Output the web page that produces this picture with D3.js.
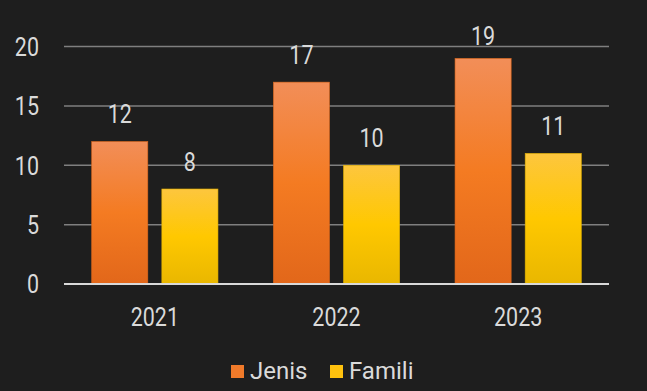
<!DOCTYPE html>
<html><head><meta charset="utf-8">
<script src="https://cdn.jsdelivr.net/npm/d3@7"></script>
<style>html,body{margin:0;padding:0;background:#1e1e1e;}svg{display:block;}</style>
</head><body>
<svg id="c" width="647" height="391"></svg>
<script>
const categories = ["2021", "2022", "2023"];
const seriesNames = ["Jenis", "Famili"];
const jenis = [12, 17, 19];
const famili = [8, 10, 11];
const yTicks = [0, 5, 10, 15, 20];

(function () {
const W = 647, H = 391;
const svg = d3.select("#c");
svg.append("rect").attr("width", W).attr("height", H).attr("fill", "#1e1e1e");

const defs = svg.append("defs");
const g1 = defs.append("linearGradient").attr("id", "gO").attr("x1", 0).attr("y1", 0).attr("x2", 0).attr("y2", 1);
g1.append("stop").attr("offset", "0%").attr("stop-color", "#f28e58");
g1.append("stop").attr("offset", "50%").attr("stop-color", "#f47b22");
g1.append("stop").attr("offset", "100%").attr("stop-color", "#e2671a");
const g2 = defs.append("linearGradient").attr("id", "gY").attr("x1", 0).attr("y1", 0).attr("x2", 0).attr("y2", 1);
g2.append("stop").attr("offset", "0%").attr("stop-color", "#fdc63e");
g2.append("stop").attr("offset", "50%").attr("stop-color", "#ffc800");
g2.append("stop").attr("offset", "100%").attr("stop-color", "#e9b700");
const fills = ["url(#gO)", "url(#gY)"];
const legendFills = ["#f07a2a", "#ffc20e"];
const strokes = ["#d9661c", "#e0b000"];

const mLeft = 64, mRight = 609, mTop = 46.5, mBottom = 284;
const x0 = d3.scaleBand().domain(categories).range([mLeft, mRight]).paddingInner(0.305).paddingOuter(0.1525);
const x1 = d3.scaleBand().domain(seriesNames).range([0, x0.bandwidth()]).paddingInner(0.2);
const y = d3.scaleLinear().domain([0, 20]).range([mBottom, mTop]);

const font = "Roboto, 'Noto Sans', sans-serif";
const txt = "#dadada";
const fs = 25, sx = 0.86;

svg.append("g").selectAll("line").data(yTicks.filter(d => d > 0)).join("line")
  .attr("x1", mLeft).attr("x2", mRight)
  .attr("y1", d => y(d)).attr("y2", d => y(d))
  .attr("stroke", "#7f7f7f").attr("stroke-width", 1.5);

const yAxis = d3.axisLeft(y).tickValues(yTicks).tickSize(0).tickPadding(0);
const ya = svg.append("g").attr("transform", `translate(39,0)`).call(yAxis);
ya.select(".domain").remove();
ya.selectAll("text").attr("fill", txt).attr("font-size", fs).attr("font-family", font)
  .attr("text-anchor", "end").attr("dy", "0.35em").attr("transform", `scale(${sx},1)`);

const data = categories.map((c, i) => ({cat: c, vals: [jenis[i], famili[i]]}));
const groups = svg.append("g").selectAll("g").data(data).join("g")
  .attr("transform", d => `translate(${x0(d.cat)},0)`);
groups.selectAll("rect").data(d => d.vals.map((v, j) => ({v, j}))).join("rect")
  .attr("x", d => x1(seriesNames[d.j]))
  .attr("y", d => y(d.v))
  .attr("width", x1.bandwidth())
  .attr("height", d => y(0) - y(d.v))
  .attr("fill", d => fills[d.j])
  .attr("stroke", d => strokes[d.j]).attr("stroke-width", 0.6);
groups.selectAll("text").data(d => d.vals.map((v, j) => ({v, j}))).join("text")
  .attr("transform", d => `translate(${x1(seriesNames[d.j]) + x1.bandwidth() / 2},${Math.max(y(d.v) - 18.5, 45)}) scale(${sx},1)`)
  .attr("text-anchor", "middle")
  .attr("fill", txt).attr("font-size", fs).attr("font-family", font)
  .text(d => d.v);

svg.append("line").attr("x1", mLeft).attr("x2", mRight).attr("y1", y(0)).attr("y2", y(0))
  .attr("stroke", "#d9d9d9").attr("stroke-width", 2);

const xAxis = d3.axisBottom(x0).tickSize(0).tickPadding(0);
const xa = svg.append("g").attr("transform", `translate(0,${y(0) + 33})`).call(xAxis);
xa.select(".domain").remove();
xa.selectAll("text").attr("fill", txt).attr("font-size", fs).attr("font-family", font)
  .attr("dy", "0.35em").attr("transform", `scale(${sx},1)`);

const legX = [231, 330];
const leg = svg.append("g").selectAll("g").data(seriesNames).join("g")
  .attr("transform", (d, i) => `translate(${legX[i]},365)`);
leg.append("rect").attr("width", 13).attr("height", 13).attr("fill", (d, i) => legendFills[i]);
leg.append("text").attr("x", 19).attr("y", 13.5)
  .attr("fill", txt).attr("font-size", 24).attr("font-family", font).text(d => d);
})();
</script>
</body></html>
